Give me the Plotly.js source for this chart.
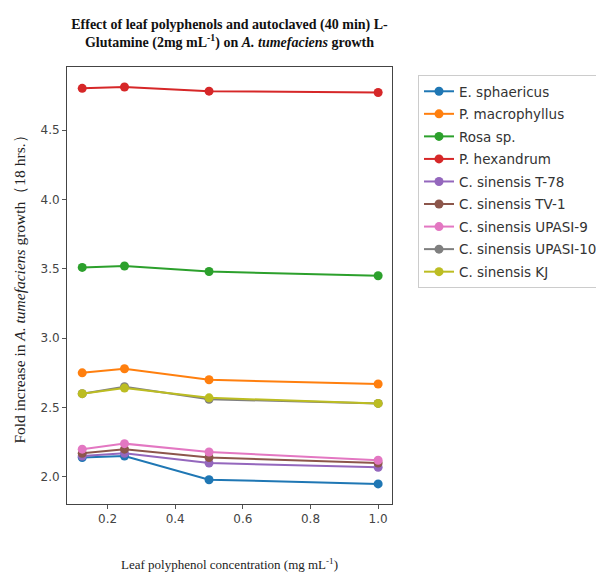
<!DOCTYPE html>
<html>
<head>
<meta charset="utf-8">
<script src="https://cdn.plot.ly/plotly-3.0.1.min.js"></script>
<style>html,body{margin:0;padding:0;background:#fff;}#chart{width:596px;height:572px;}</style>
</head>
<body>
<div id="chart"></div>
<script>
const concentrations = [0.125, 0.25, 0.5, 1.0];
const seriesNames = ["E. sphaericus", "P. macrophyllus", "Rosa sp.", "P. hexandrum", "C. sinensis T-78", "C. sinensis TV-1", "C. sinensis UPASI-9", "C. sinensis UPASI-10", "C. sinensis KJ"];
const eSphaericus = [2.14, 2.15, 1.98, 1.95];
const pMacrophyllus = [2.75, 2.78, 2.70, 2.67];
const rosaSp = [3.51, 3.52, 3.48, 3.45];
const pHexandrum = [4.80, 4.81, 4.78, 4.77];
const cT78 = [2.15, 2.17, 2.10, 2.07];
const cTV1 = [2.17, 2.20, 2.14, 2.10];
const cUPASI9 = [2.20, 2.24, 2.18, 2.12];
const cUPASI10 = [2.60, 2.65, 2.56, 2.53];
const cKJ = [2.60, 2.64, 2.57, 2.53];
const seriesValues = [eSphaericus, pMacrophyllus, rosaSp, pHexandrum, cT78, cTV1, cUPASI9, cUPASI10, cKJ];
const colors = ["#1f77b4", "#ff7f0e", "#2ca02c", "#d62728", "#9467bd", "#8c564b", "#e377c2", "#7f7f7f", "#bcbd22"];
const xTicks = [0.2, 0.4, 0.6, 0.8, 1.0];
const yTicks = [2.0, 2.5, 3.0, 3.5, 4.0, 4.5];

const traces = seriesNames.map((name, i) => ({
  x: concentrations,
  y: seriesValues[i],
  name: name,
  type: 'scatter',
  mode: 'lines+markers',
  legendgroup: 'g' + i,
  line: {color: colors[i], width: 2},
  marker: {color: colors[i], size: 9}
}));

const serif = "Liberation Serif, Times New Roman, serif";
const sans = "DejaVu Sans, sans-serif";

const layout = {
  width: 596, height: 572,
  margin: {l: 67, r: 204, t: 67, b: 68},
  paper_bgcolor: '#fff', plot_bgcolor: '#fff',
  showlegend: true,
  title: {
    text: "<b>Effect of leaf polyphenols and autoclaved (40 min) L-<br>Glutamine (2mg mL<sup>-1</sup>) on <i>A. tumefaciens</i> growth</b>",
    font: {family: serif, size: 14, color: '#111'},
    x: 0.5, xanchor: 'center', xref: 'paper',
    y: 1 - 29 / 572, yanchor: 'top', yref: 'container'
  },
  xaxis: {
    range: [0.08, 1.041],
    tickvals: xTicks, ticktext: xTicks.map(v => v.toFixed(1)),
    ticks: 'outside', ticklen: 4, tickcolor: '#555',
    showline: true, linecolor: '#444', linewidth: 1, mirror: true,
    showgrid: false, zeroline: false,
    tickfont: {family: sans, size: 12, color: '#444'},
    title: {text: "Leaf polyphenol concentration (mg mL<sup>-1</sup>)", font: {family: serif, size: 13, color: '#222'}, standoff: 34}
  },
  yaxis: {
    range: [1.805, 4.954],
    tickvals: yTicks, ticktext: yTicks.map(v => v.toFixed(1)),
    ticks: 'outside', ticklen: 4, tickcolor: '#555',
    showline: true, linecolor: '#444', linewidth: 1, mirror: true,
    showgrid: false, zeroline: false,
    tickfont: {family: sans, size: 12, color: '#444'},
    title: {text: "Fold increase in <i>A. tumefaciens</i> growth（18 hrs.）", font: {family: serif, size: 15.5, color: '#222'}, standoff: 11}
  },
  legend: {
    x: 418 / 596, xref: 'container', y: 1 - 75 / 572, yref: 'container',
    xanchor: 'left', yanchor: 'top',
    font: {family: sans, size: 13.5, color: '#333'},
    bordercolor: '#ccc', borderwidth: 1,
    traceorder: 'grouped', tracegroupgap: 2
  }
};

Plotly.newPlot('chart', traces, layout, {displayModeBar: false, staticPlot: true});
</script>
</body>
</html>
